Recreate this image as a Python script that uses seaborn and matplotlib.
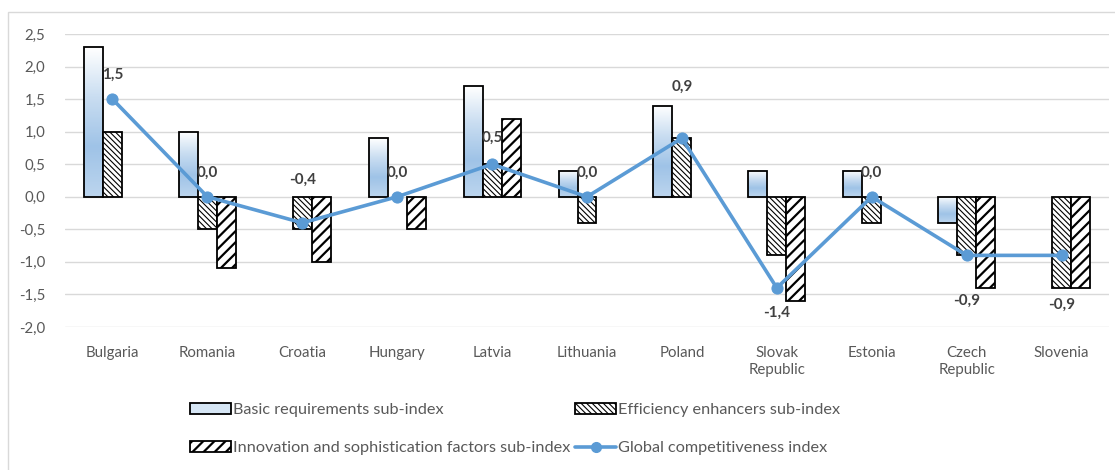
import numpy as np
import pandas as pd
import matplotlib
matplotlib.use("Agg")
import matplotlib.pyplot as plt
import seaborn as sns
from matplotlib.colors import LinearSegmentedColormap
from matplotlib.patches import Patch, Rectangle
from matplotlib.lines import Line2D
from matplotlib.ticker import FuncFormatter

# data
countries = ["Bulgaria", "Romania", "Croatia", "Hungary", "Latvia", "Lithuania",
             "Poland", "Slovak\nRepublic", "Estonia", "Czech\nRepublic", "Slovenia"]
basic = [2.3, 1.0, 0.0, 0.9, 1.7, 0.4, 1.4, 0.4, 0.4, -0.4, 0.0]
efficiency = [1.0, -0.5, -0.5, 0.0, 0.5, -0.4, 0.9, -0.9, -0.4, -0.9, -1.4]
innovation = [0.0, -1.1, -1.0, -0.5, 1.2, 0.0, 0.0, -1.6, 0.0, -1.4, -1.4]
gci = [1.5, 0.0, -0.4, 0.0, 0.5, 0.0, 0.9, -1.4, 0.0, -0.9, -0.9]
series_names = ["Basic requirements sub-index",
                "Efficiency enhancers sub-index",
                "Innovation and sophistication factors sub-index"]
gci_name = "Global competitiveness index"

# label offsets in pixels (above / below the point)
label_dy = [24, 24, 43, 24, 26, 24, 51, -25, 24, -45, -49]

sns.set_style("white")
plt.rcParams["font.family"] = ["Lato", "DejaVu Sans"]
plt.rcParams["hatch.linewidth"] = 1.2

BLUE = "#5B9BD5"
GRID = "#D9D9D9"
TXT = "#595959"
HATCH_EFF = "\\" * 6
HATCH_INN = "///"


def hatch_lw(artist, lw):
    # per-artist hatch width only exists in newer matplotlib
    if hasattr(artist, "set_hatch_linewidth"):
        artist.set_hatch_linewidth(lw)


df = pd.DataFrame({
    "country": countries * 3,
    "value": basic + efficiency + innovation,
    "series": [series_names[0]] * 11 + [series_names[1]] * 11 + [series_names[2]] * 11,
})

fig = plt.figure(figsize=(11.15, 4.70), dpi=100)
fig.patches.append(Rectangle((8 / 1115, -0.1), 1.2, 1.1 - 12 / 470, transform=fig.transFigure,
                             fill=False, edgecolor=GRID, lw=1.0))
ax = fig.add_axes([65 / 1115, (470 - 327) / 470, (1109 - 65) / 1115, (327 - 34) / 470])

sns.barplot(data=df, x="country", y="value", hue="series", order=countries,
            hue_order=series_names, width=0.6, errorbar=None, legend=False,
            saturation=1, ax=ax)

grad = LinearSegmentedColormap.from_list("g", ["#FFFFFF", "#C9DDF1", "#9FC3E7", "#BCD5EE"])
for p in list(ax.patches):
    x, y, w, h = p.get_x(), p.get_y(), p.get_width(), p.get_height()
    if abs(h) < 1e-9:
        p.set_visible(False)
        continue
    off = x + w / 2 - round(x + w / 2)
    p.set_edgecolor("black")
    p.set_linewidth(1.3)
    p.set_zorder(3)
    if off < -0.1:
        p.set_facecolor("none")
        y0, y1 = min(y, y + h), max(y, y + h)
        g = np.linspace(0, 1, 100).reshape(-1, 1)
        ax.imshow(g, cmap=grad, aspect="auto", extent=[x, x + w, y0, y1],
                  origin="upper", zorder=2.5, interpolation="bilinear")
    elif off < 0.1:
        p.set_facecolor("white")
        p.set_hatch(HATCH_EFF)
        hatch_lw(p, 0.8)
    else:
        p.set_facecolor("white")
        p.set_hatch(HATCH_INN)
        hatch_lw(p, 1.6)

pos = np.arange(len(countries))
sns.lineplot(x=pos, y=gci, color=BLUE, lw=2.6, marker="o", markersize=8,
             markeredgecolor=BLUE, sort=False, ax=ax, zorder=5)

for xi, v, dy in zip(pos, gci, label_dy):
    ax.annotate(f"{v:.1f}".replace(".", ","), (xi, v), xytext=(0, dy),
                textcoords="offset pixels", ha="center", va="center",
                fontsize=11, fontweight="bold", color="#404040", zorder=6)

ax.set_xlim(-0.5, len(countries) - 0.5)
ax.set_ylim(-2.0, 2.5)
ax.set_yticks(np.arange(-2.0, 2.51, 0.5))
ax.yaxis.set_major_formatter(FuncFormatter(lambda v, _: f"{v:.1f}".replace(".", ",")))
ax.grid(axis="y", color=GRID, lw=1.0)
ax.set_axisbelow(True)
for s in ax.spines.values():
    s.set_visible(False)
ax.tick_params(axis="y", length=0, pad=14, labelsize=10.8, labelcolor=TXT)
ax.tick_params(axis="x", length=0, pad=14, labelsize=10.8, labelcolor=TXT)
ax.set_xlabel("")
ax.set_ylabel("")

h_basic = Patch(facecolor="#D6E6F5", edgecolor="black", lw=1.3)
h_inn = Patch(facecolor="white", edgecolor="black", hatch=HATCH_INN, lw=1.3)
h_eff = Patch(facecolor="white", edgecolor="black", hatch=HATCH_EFF, lw=1.3)
handles = [h_basic, h_inn, h_eff,
           Line2D([], [], color=BLUE, lw=2.6, marker="o", markersize=7)]
labels = [series_names[0], series_names[2], series_names[1], gci_name]
leg = fig.legend(handles, labels, loc="upper left", bbox_to_anchor=(190 / 1115, 1 - 403 / 470),
                 ncol=2, frameon=False, fontsize=11.7, labelcolor=TXT, handlelength=2.5,
                 handleheight=0.7, handletextpad=0.15, columnspacing=0.3, labelspacing=1.45,
                 borderpad=0, borderaxespad=0)
for lh, lw in zip(leg.legend_handles[1:3], (1.6, 0.8)):
    hatch_lw(lh, lw)

fig.savefig("out.png", dpi=100)
